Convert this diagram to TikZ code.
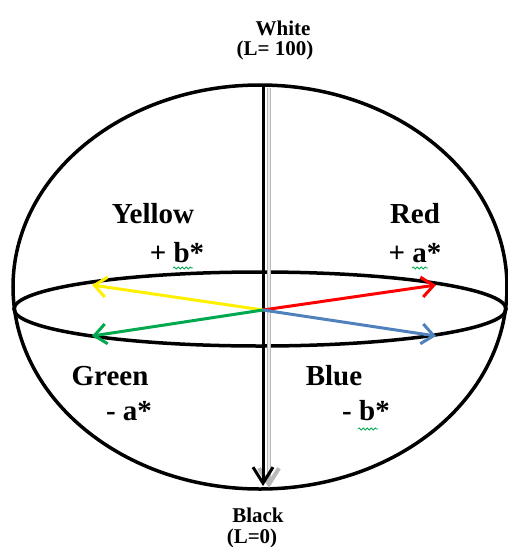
\documentclass[tikz,border=0pt]{standalone}
\usepackage{fontspec}
\setmainfont{Liberation Serif}
\usepackage{tikz}
\usetikzlibrary{arrows.meta,decorations.pathmorphing}
\definecolor{labyellow}{RGB}{255,240,0}
\definecolor{labred}{RGB}{255,0,0}
\definecolor{labgreen}{RGB}{0,168,80}
\definecolor{labblue}{RGB}{79,129,189}

\begin{document}
\begin{tikzpicture}[x=1pt, y=-1pt,
  shell/.style={draw=black, line width=3.5pt},
  axis/.style={-{Straight Barb[length=16pt, width=20pt]}, line width=3pt},
  chroma/.style={-{Straight Barb[length=12pt, width=20pt]}, line width=3pt},
  biglabel/.style={font=\fontsize{29}{32}\selectfont\bfseries, anchor=base},
  smalllabel/.style={font=\fontsize{21}{24}\selectfont\bfseries, anchor=base},
  squiggle/.style={draw=labgreen, line width=0.8pt, decorate, decoration={snake, segment length=4pt, amplitude=1pt}}
]
  \useasboundingbox (0,0) rectangle (508,547);

  % sphere and equator
  \draw[shell] (260,287) ellipse [x radius=247, y radius=202];
  \draw[shell] (260,309) ellipse [x radius=246, y radius=37];

  \coordinate (top) at (263,86);
  \coordinate (bottom) at (263,486);
  \coordinate (gtop) at (269,88);
  \coordinate (gbottom) at (269,488);
  \coordinate (o) at (263,310);
  \coordinate (yl) at (92,285);
  \coordinate (rd) at (436,285);
  \coordinate (gr) at (92,336);
  \coordinate (bl) at (436,336);

  % lightness axis
  \draw[axis, gray!55, line width=4pt] (gtop) -- (gbottom);
  \draw[gray!15, line width=1.2pt, shorten >=14pt] (gtop) -- (gbottom);
  \draw[axis] (top) -- (bottom);

  % a* and b* axes
  \draw[chroma, labyellow] (o) -- (yl);
  \draw[chroma, labred] (o) -- (rd);
  \draw[chroma, labgreen] (o) -- (gr);
  \draw[chroma, labblue] (o) -- (bl);

  \node[smalllabel] (white) at (283,35) {White};
  \node[smalllabel] (whiteL) at (275,55) {(L= 100)};
  \node[smalllabel] (black) at (258,522) {Black};
  \node[smalllabel] (blackL) at (252,543) {(L=0)};

  \node[biglabel] (yellow) at (153,223) {Yellow};
  \node[biglabel] (plusb) at (177,262) {+ b*};
  \node[biglabel] (red) at (415,223) {Red};
  \node[biglabel] (plusa) at (415,262) {+ a*};
  \node[biglabel] (green) at (110,385) {Green};
  \node[biglabel] (minusa) at (129,420) {- a*};
  \node[biglabel] (blue) at (334,385) {Blue};
  \node[biglabel] (minusb) at (366,420) {- b*};

  \draw[squiggle] (173,268) -- (193,268);
  \draw[squiggle] (412,268) -- (428,268);
  \draw[squiggle] (358,429) -- (378,429);
\end{tikzpicture}
\end{document}
